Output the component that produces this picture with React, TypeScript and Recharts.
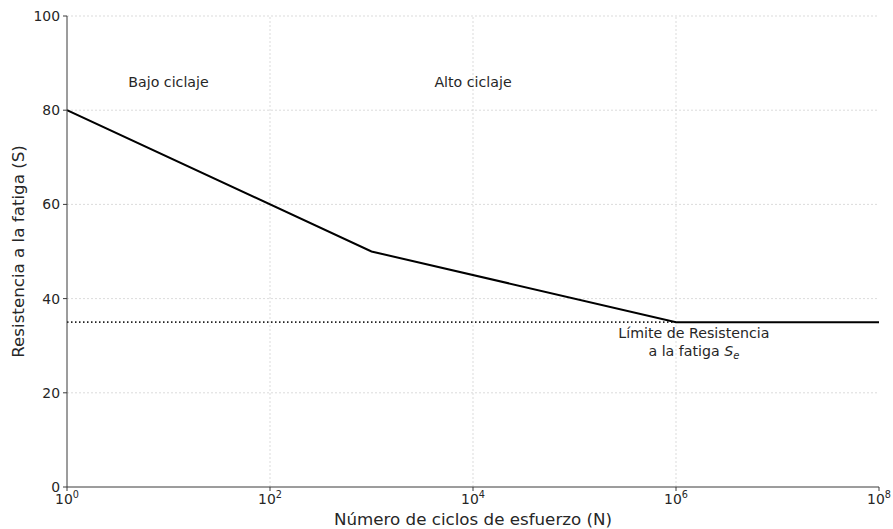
import React from 'react';
import { LineChart, Line, XAxis, YAxis, ReferenceLine, ReferenceDot } from 'recharts';

const cycles = [1, 1e3, 1e6, 1e8];
const strength = [80, 50, 35, 35];
const enduranceLimit = 35;
const enduranceRange = [1, 1e6];
const xTicks = [1, 1e2, 1e4, 1e6, 1e8];
const yTicks = [0, 20, 40, 60, 80, 100];
const gridX = [1e2, 1e4, 1e6];
const gridY = [20, 40, 60, 80, 100];
const regionLabels = ['Bajo ciclaje', 'Alto ciclaje'];
const regionX = [10, 1e4];
const regionY = 85;
const limitX = 1.5e6;
const limitLines = ['Límite de Resistencia', 'a la fatiga '];
const xTitle = 'Número de ciclos de esfuerzo (N)';
const yTitle = 'Resistencia a la fatiga (S)';

const FONT = '"DejaVu Sans", Verdana, sans-serif';
const TEXT = '#262626';
const AXIS = '#3a3a3a';

const curveData = cycles.map((n, i) => ({ n, s: strength[i] }));
const limitData = enduranceRange.map((n) => ({ n, s: enduranceLimit }));

const XTick = (props: any) => {
  const { x, y, payload } = props;
  const exp = Math.round(Math.log10(payload.value));
  return (
    <text x={x} y={y} dy={11} textAnchor="middle" fontFamily={FONT} fontSize={13.9} fill={TEXT}>
      <tspan>10</tspan>
      <tspan fontSize={9.7} dy={-6}>{exp}</tspan>
    </text>
  );
};

export default function App() {
  return (
    <div style={{ position: 'absolute', left: 0, top: 0, background: '#fff' }}>
      <LineChart width={893} height={529} margin={{ top: 16, right: 14, bottom: 0, left: 0 }}>
        <XAxis
          dataKey="n"
          type="number"
          scale="log"
          domain={[1, 1e8]}
          ticks={xTicks}
          interval={0}
          allowDataOverflow
          height={42}
          stroke={AXIS}
          tickSize={4}
          tickMargin={2}
          tick={<XTick />}
          label={(p: any) => {
            const vb = p.viewBox;
            return (
              <text x={vb.x + vb.width / 2} y={519} textAnchor="middle" dominantBaseline="central" fontFamily={FONT} fontSize={16.7} fill={TEXT}>
                {xTitle}
              </text>
            );
          }}
        />
        <YAxis
          dataKey="s"
          type="number"
          domain={[0, 100]}
          ticks={yTicks}
          interval={0}
          width={67}
          stroke={AXIS}
          tickSize={4}
          tickMargin={3}
          tick={{ fill: TEXT, fontSize: 13.9, fontFamily: FONT }}
          label={(p: any) => {
            const vb = p.viewBox;
            const cy = vb.y + vb.height / 2;
            return (
              <text x={18} y={cy} transform={`rotate(-90 18 ${cy})`} textAnchor="middle" dominantBaseline="central" fontFamily={FONT} fontSize={16.7} fill={TEXT}>
                {yTitle}
              </text>
            );
          }}
        />
        {gridX.map((v) => (
          <ReferenceLine key={'gx' + v} x={v} stroke="#d2d2d2" strokeWidth={0.8} strokeDasharray="2 2" />
        ))}
        {gridY.map((v) => (
          <ReferenceLine key={'gy' + v} y={v} stroke="#d2d2d2" strokeWidth={0.8} strokeDasharray="2 2" />
        ))}
        <Line data={limitData} dataKey="s" stroke="#222" strokeWidth={1.6} strokeDasharray="1.5 2.5" dot={false} isAnimationActive={false} />
        <Line data={curveData} dataKey="s" stroke="#000" strokeWidth={2} dot={false} isAnimationActive={false} />
        {regionLabels.map((t, i) => (
          <ReferenceDot
            key={t}
            x={regionX[i]}
            y={regionY}
            r={0}
            fill="none"
            stroke="none"
            label={(p: any) => (
              <text x={p.viewBox.x} y={p.viewBox.y} textAnchor="middle" fontFamily={FONT} fontSize={14.2} fill={TEXT}>
                {t}
              </text>
            )}
          />
        ))}
        <ReferenceDot
          x={limitX}
          y={enduranceLimit}
          r={0}
          fill="none"
          stroke="none"
          label={(p: any) => (
            <g>
              <text x={p.viewBox.x} y={p.viewBox.y + 16} textAnchor="middle" fontFamily={FONT} fontSize={14.2} fill={TEXT}>
                {limitLines[0]}
              </text>
              <text x={p.viewBox.x} y={p.viewBox.y + 34} textAnchor="middle" fontFamily={FONT} fontSize={14.2} fill={TEXT}>
                <tspan>{limitLines[1]}</tspan>
                <tspan fontStyle="italic">S</tspan>
                <tspan fontStyle="italic" fontSize={9.9} dy={3}>e</tspan>
              </text>
            </g>
          )}
        />
      </LineChart>
    </div>
  );
}
